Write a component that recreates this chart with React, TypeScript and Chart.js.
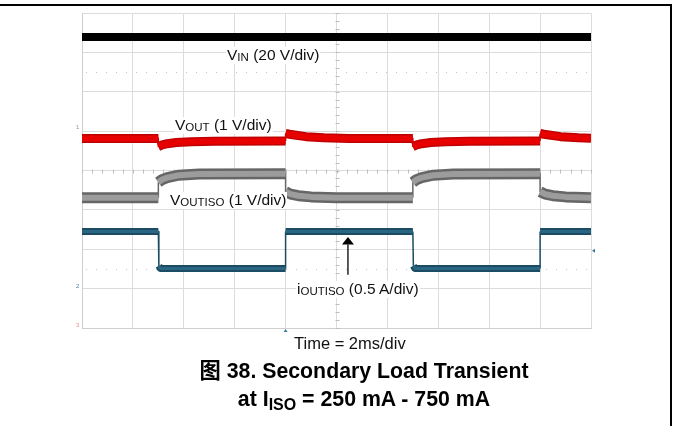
import React, { useEffect, useRef } from 'react';
import { Chart, registerables } from 'chart.js';

Chart.register(...registerables);

// x in ms (2 ms/div, 10 div), y in scope divisions (8 div)
const timeTicks = [0, 2, 4, 6, 8, 10, 12, 14, 16, 18, 20];
const divTicks = [0, 1, 2, 3, 4, 5, 6, 7, 8];
const dottedLevels = [6.5, 1.5];

const vinTrace: [number, number][] = [[0, 7.39], [20, 7.39]];

const voutTrace: [number, number][] = [
    [0, 4.81], [3.0, 4.81],
    [3.0, 4.61], [3.15, 4.65], [3.35, 4.68], [3.7, 4.71], [4.3, 4.73], [5.2, 4.745], [8.0, 4.75],
    [8.0, 4.94], [8.15, 4.92], [8.35, 4.9], [8.8, 4.86], [9.5, 4.83], [10.5, 4.815], [13.0, 4.81],
    [13.0, 4.61], [13.15, 4.65], [13.35, 4.68], [13.7, 4.71], [14.3, 4.73], [15.2, 4.745], [18.0, 4.75],
    [18.0, 4.94], [18.15, 4.92], [18.35, 4.9], [18.8, 4.86], [19.5, 4.83], [20, 4.82],
];

const voutisoTrace: [number, number][] = [
    [0, 3.31], [3.0, 3.31],
    [3.0, 3.7], [3.15, 3.77], [3.35, 3.82], [3.8, 3.88], [4.6, 3.91], [8.0, 3.92],
    [8.0, 3.46], [8.2, 3.4], [8.5, 3.36], [9.0, 3.33], [10.0, 3.31], [13.0, 3.31],
    [13.0, 3.7], [13.15, 3.77], [13.35, 3.82], [13.8, 3.88], [14.6, 3.91], [18.0, 3.92],
    [18.0, 3.46], [18.2, 3.4], [18.5, 3.36], [19.0, 3.33], [20, 3.31],
];

const ioutisoTrace: [number, number][] = [
    [0, 2.45], [3.0, 2.45], [3.02, 1.58], [3.08, 1.51], [8.0, 1.51],
    [8.0, 2.45], [13.0, 2.45], [13.02, 1.58], [13.08, 1.51], [18.0, 1.51],
    [18.0, 2.45], [20, 2.45],
];

const toPts = (t: [number, number][]) => t.map(([x, y]) => ({ x, y }));

// vertical jumps are drawn thin, like the scope does
const isStep = (c: any) => Math.abs(c.p1.x - c.p0.x) < 3 && Math.abs(c.p1.y - c.p0.y) > 3;

const band = (trace: [number, number][], color: string, width: number, order: number) => ({
    data: toPts(trace),
    borderColor: color,
    borderWidth: width,
    order,
    segment: { borderWidth: (c: any) => (isStep(c) ? 1.5 : undefined) },
});

const core = (trace: [number, number][], color: string, width: number) => ({
    data: toPts(trace),
    borderColor: color,
    borderWidth: width,
    order: 0,
    segment: { borderColor: (c: any) => (isStep(c) ? 'rgba(0,0,0,0)' : undefined) },
});

const scopePlugin = {
    id: 'scopeDecor',
    beforeDatasetsDraw(chart: any) {
        const { ctx, chartArea: a, scales } = chart;
        const x = scales.x, y = scales.y;
        ctx.save();
        // minor ticks on the centre lines
        ctx.strokeStyle = '#bdbdbd';
        ctx.lineWidth = 1;
        const cy = Math.round(y.getPixelForValue(4)) + 0.5;
        const cx = Math.round(x.getPixelForValue(10)) + 0.5;
        for (let i = 0; i <= 50; i++) {
            const px = Math.round(x.getPixelForValue(i * 0.4)) + 0.5;
            ctx.beginPath();
            ctx.moveTo(px, cy - 2);
            ctx.lineTo(px, cy + 2);
            ctx.stroke();
        }
        for (let i = 0; i <= 40; i++) {
            const py = Math.round(y.getPixelForValue(i * 0.2)) + 0.5;
            ctx.beginPath();
            ctx.moveTo(cx - 2, py);
            ctx.lineTo(cx + 2, py);
            ctx.stroke();
        }
        // dotted reference levels
        ctx.setLineDash([1, 9]);
        ctx.strokeStyle = '#c4c4c4';
        dottedLevels.forEach((lv) => {
            const py = Math.round(y.getPixelForValue(lv)) + 0.5;
            ctx.beginPath();
            ctx.moveTo(a.left + 4, py);
            ctx.lineTo(a.right, py);
            ctx.stroke();
        });
        ctx.restore();
    },
    afterDatasetsDraw(chart: any) {
        const { ctx, chartArea: a, scales } = chart;
        const x = scales.x, y = scales.y;
        ctx.save();
        // arrow to the iOUTISO trace
        const ax = x.getPixelForValue(10.45);
        const tip = y.getPixelForValue(2.31);
        const base = y.getPixelForValue(2.12);
        const tail = y.getPixelForValue(1.35);
        ctx.strokeStyle = '#000';
        ctx.lineWidth = 1.3;
        ctx.beginPath();
        ctx.moveTo(ax, base);
        ctx.lineTo(ax, tail);
        ctx.stroke();
        ctx.fillStyle = '#000';
        ctx.beginPath();
        ctx.moveTo(ax, tip);
        ctx.lineTo(ax - 6, base);
        ctx.lineTo(ax + 6, base);
        ctx.closePath();
        ctx.fill();
        // trigger markers
        ctx.fillStyle = '#3d7a9c';
        const tx = x.getPixelForValue(8);
        ctx.beginPath();
        ctx.moveTo(tx, a.bottom + 1);
        ctx.lineTo(tx - 2, a.bottom + 4);
        ctx.lineTo(tx + 2, a.bottom + 4);
        ctx.closePath();
        ctx.fill();
        const ty = y.getPixelForValue(1.96);
        ctx.beginPath();
        ctx.moveTo(a.right + 1, ty);
        ctx.lineTo(a.right + 4, ty - 2);
        ctx.lineTo(a.right + 4, ty + 2);
        ctx.closePath();
        ctx.fill();
        ctx.restore();
    },
};

const labelFont = "'Liberation Sans', Arial, sans-serif";

const Sub: React.FC<{ children: React.ReactNode; size?: number; drop?: number }> = ({ children, size = 11.5, drop = 1 }) => (
    <span style={{ fontSize: size, verticalAlign: -drop }}>{children}</span>
);

const labelStyle = (left: number, top: number): React.CSSProperties => ({
    position: 'absolute',
    left,
    top,
    font: `15.5px/1 ${labelFont}`,
    background: '#fff',
    whiteSpace: 'nowrap',
    color: '#111',
    padding: '0 1px',
});

const App: React.FC = () => {
    const canvasRef = useRef<HTMLCanvasElement>(null);

    useEffect(() => {
        if (!canvasRef.current) return;
        const chart = new Chart(canvasRef.current, {
            type: 'line',
            data: {
                datasets: [
                    band(vinTrace, '#000000', 8, 3),
                    band(voutTrace, '#c00000', 9, 3),
                    core(voutTrace, '#e60000', 6),
                    band(voutisoTrace, '#666666', 11, 3),
                    core(voutisoTrace, '#9c9c9c', 6),
                    band(ioutisoTrace, '#1b4c63', 7, 3),
                    core(ioutisoTrace, '#2a6682', 3),
                ] as any,
            },
            options: {
                responsive: false,
                animation: false,
                events: [],
                layout: { padding: { left: 82, top: 13, right: 82, bottom: 98 } },
                plugins: { legend: { display: false }, tooltip: { enabled: false } },
                elements: {
                    point: { radius: 0 },
                    line: { tension: 0, borderCapStyle: 'butt', borderJoinStyle: 'round' },
                },
                scales: {
                    x: {
                        type: 'linear',
                        min: 0,
                        max: 20,
                        afterBuildTicks: (axis: any) => { axis.ticks = timeTicks.map((v) => ({ value: v })); },
                        ticks: { display: false },
                        grid: { color: '#dcdcdc', drawTicks: false },
                        border: { display: true, color: '#cfcfcf' },
                    },
                    y: {
                        type: 'linear',
                        min: 0,
                        max: 8,
                        afterBuildTicks: (axis: any) => { axis.ticks = divTicks.map((v) => ({ value: v })); },
                        ticks: { display: false },
                        grid: { color: '#dcdcdc', drawTicks: false },
                        border: { display: true, color: '#cfcfcf' },
                    },
                },
            },
            plugins: [scopePlugin],
        });
        return () => chart.destroy();
    }, []);

    return (
        <div style={{ position: 'absolute', left: 0, top: 0, width: 673, height: 426, background: '#fff', overflow: 'hidden', fontFamily: labelFont }}>
            <canvas ref={canvasRef} width={673} height={426} style={{ position: 'absolute', left: 0, top: 0 }} />
            <div style={{ position: 'absolute', left: 0, top: 3.5, width: 671, height: 2, background: '#000' }} />
            <div style={{ position: 'absolute', left: 669.5, top: 3.5, width: 2, height: 423, background: '#000' }} />

            <div style={labelStyle(226, 47)}>V<Sub>IN</Sub> (20 V/div)</div>
            <div style={labelStyle(174, 117)}>V<Sub>OUT</Sub> (1 V/div)</div>
            <div style={labelStyle(169, 192)}>V<Sub>OUTISO</Sub> (1 V/div)</div>
            <div style={labelStyle(296, 281)}>i<Sub>OUTISO</Sub> (0.5 A/div)</div>
            <div style={{ ...labelStyle(293, 334.5), font: `16.5px/1 ${labelFont}`, background: 'transparent' }}>Time = 2ms/div</div>

            <span style={{ position: 'absolute', left: 76, top: 124, fontSize: 6, color: '#9a9a9a' }}>1</span>
            <span style={{ position: 'absolute', left: 76, top: 283, fontSize: 6, color: '#4a7fa0' }}>2</span>
            <span style={{ position: 'absolute', left: 76, top: 322, fontSize: 6, color: '#e29090' }}>3</span>

            <div style={{ position: 'absolute', left: 0, width: 728, top: 361, textAlign: 'center', font: `bold 21.3px/1 ${labelFont}, 'Noto Sans CJK SC'`, color: '#000', whiteSpace: 'nowrap' }}>
                图 38. Secondary Load Transient
            </div>
            <div style={{ position: 'absolute', left: 0, width: 728, top: 389, textAlign: 'center', font: `bold 21.3px/1 ${labelFont}`, color: '#000', whiteSpace: 'nowrap' }}>
                at I<Sub size={16} drop={4}>ISO</Sub> = 250 mA - 750 mA
            </div>
        </div>
    );
};

export default App;
